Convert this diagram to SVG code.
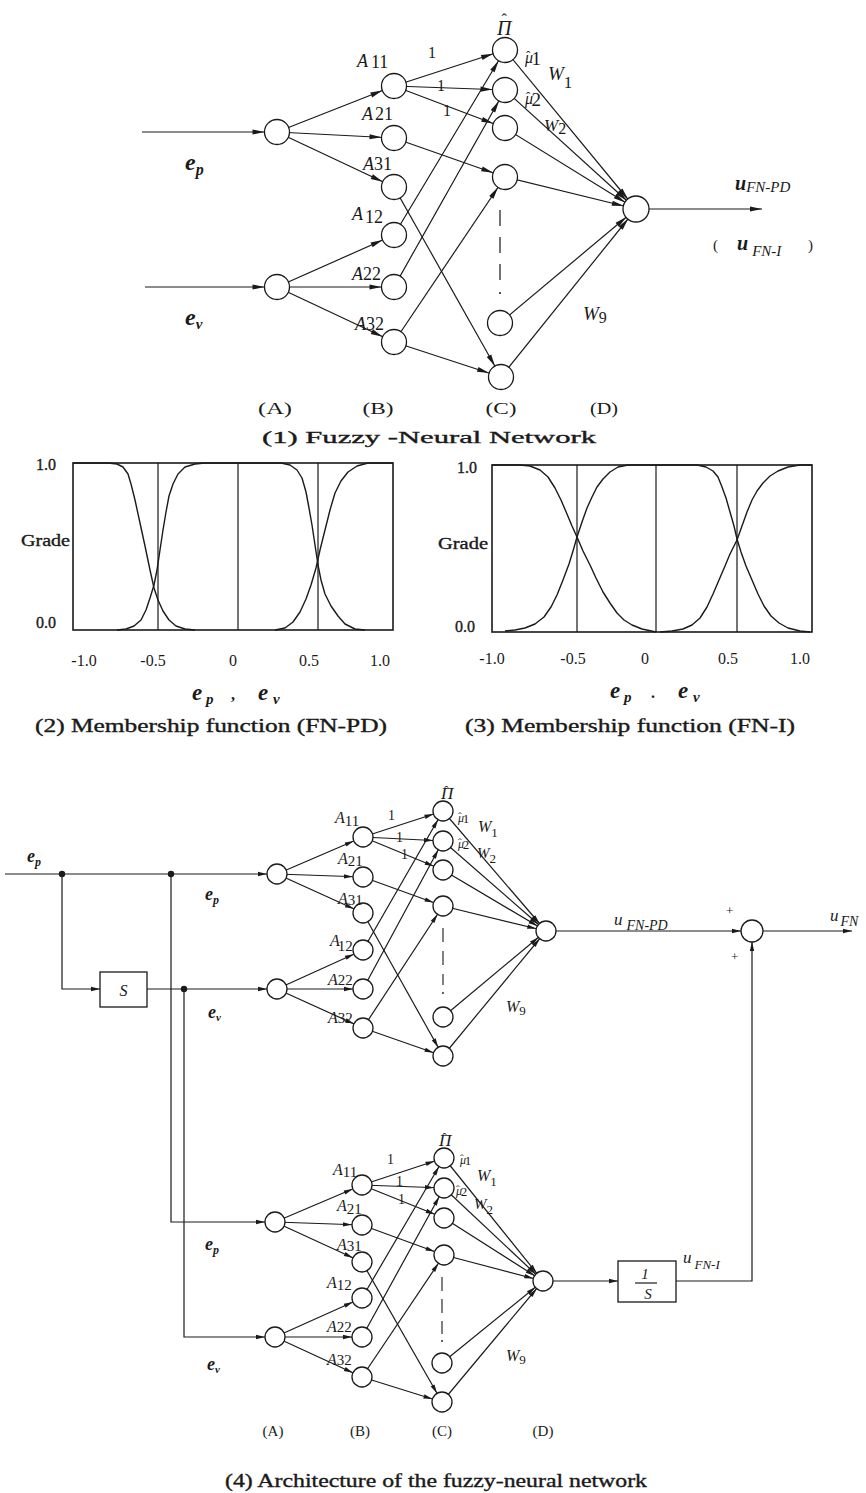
<svg xmlns="http://www.w3.org/2000/svg" width="866" height="1493" viewBox="0 0 866 1493">
<defs>
<style>
.ln{stroke:#1a1a1a;stroke-width:1.2;fill:none}
.fr{stroke:#1a1a1a;stroke-width:1.6;fill:none}
.cv{stroke:#1a1a1a;stroke-width:1.4;fill:none;stroke-linejoin:round}
.nd{fill:#fff;stroke:#1a1a1a;stroke-width:1.3}
.bx{fill:#fff;stroke:#1a1a1a;stroke-width:1.3}
.dot{fill:#1a1a1a}
text{font-family:"Liberation Serif","DejaVu Serif",serif;fill:#1a1a1a}
.it{font-style:italic}
.up{font-style:normal}
.bi{font-style:italic;font-weight:bold}
.cap{stroke:#1a1a1a;stroke-width:0.35}
.a1 .ln{marker-end:url(#a1)}
.a2 .ln{marker-end:url(#a2)}
</style>
<marker id="a1" markerUnits="userSpaceOnUse" markerWidth="30" markerHeight="8" refX="24.5" refY="0" orient="auto" overflow="visible"><path d="M0,-2.6 L12,0 L0,2.6 z" fill="#1a1a1a"/></marker>
<marker id="a1e" markerUnits="userSpaceOnUse" markerWidth="14" markerHeight="8" refX="12" refY="0" orient="auto" overflow="visible"><path d="M0,-2.6 L12,0 L0,2.6 z" fill="#1a1a1a"/></marker>
<marker id="a2" markerUnits="userSpaceOnUse" markerWidth="22" markerHeight="6" refX="19" refY="0" orient="auto" overflow="visible"><path d="M0,-2.2 L9,0 L0,2.2 z" fill="#1a1a1a"/></marker>
<marker id="a2s" markerUnits="userSpaceOnUse" markerWidth="22" markerHeight="6" refX="20" refY="0" orient="auto" overflow="visible"><path d="M0,-2.2 L9,0 L0,2.2 z" fill="#1a1a1a"/></marker>
<marker id="a2e" markerUnits="userSpaceOnUse" markerWidth="12" markerHeight="6" refX="9" refY="0" orient="auto" overflow="visible"><path d="M0,-2.2 L9,0 L0,2.2 z" fill="#1a1a1a"/></marker>
</defs>
<rect x="0" y="0" width="866" height="1493" fill="#fff"/>

<!-- ========== (1) Fuzzy-Neural Network ========== -->
<g id="connectors-net1" class="a1">
<path class="ln" d="M142,132 L277,132"/>
<path class="ln" d="M145,287 L277,287"/>
<path class="ln" d="M277,132 L394,86"/>
<path class="ln" d="M277,132 L394,138"/>
<path class="ln" d="M277,132 L394,187"/>
<path class="ln" d="M277,287 L394,235"/>
<path class="ln" d="M277,287 L394,287"/>
<path class="ln" d="M277,287 L394,342"/>
<path class="ln" d="M394,86 L505,50"/>
<path class="ln" d="M394,86 L505,90"/>
<path class="ln" d="M394,86 L505,128"/>
<path class="ln" d="M394,138 L505,177"/>
<path class="ln" d="M394,187 L501,377"/>
<path class="ln" d="M394,235 L505,50"/>
<path class="ln" d="M394,287 L505,90"/>
<path class="ln" d="M394,342 L505,177"/>
<path class="ln" d="M394,342 L501,377"/>
<path class="ln" d="M505,50 L636,209"/>
<path class="ln" d="M505,90 L636,209"/>
<path class="ln" d="M505,128 L636,209"/>
<path class="ln" d="M505,177 L636,209"/>
<path class="ln" d="M500,323 L636,209"/>
<path class="ln" d="M501,377 L636,209"/>
<path d="M636,209 L762,209" stroke="#1a1a1a" stroke-width="1.2" marker-end="url(#a1e)"/>
<path d="M500,210 L500,282" stroke="#1a1a1a" stroke-width="1.2" stroke-dasharray="16 11"/>
<circle class="dot" cx="500" cy="293" r="1"/>
<text x="428" y="58" font-size="16">1</text>
<text x="437" y="91" font-size="16">1</text>
<text x="443" y="116" font-size="16">1</text>
<text x="583" y="320"><tspan class="it" font-size="19">W</tspan><tspan font-size="16" dy="3">9</tspan></text>
<text x="548" y="80"><tspan class="it" font-size="19">W</tspan><tspan font-size="17" dy="8">1</tspan></text>
<text x="544" y="131"><tspan class="it" font-size="17">W</tspan><tspan font-size="16" dy="3">2</tspan></text>
<text x="735" y="190"><tspan class="bi" font-size="20">u</tspan><tspan class="it" font-size="15" dy="2">FN-PD</tspan></text>
<text x="713" y="250" font-size="15">(</text>
<text x="737" y="250"><tspan class="bi" font-size="20">u</tspan><tspan class="it" font-size="15" dx="4" dy="6">FN-I</tspan></text>
<text x="808" y="250" font-size="15">)</text>
</g>
<g id="net1-in-ep"><circle class="nd" cx="277" cy="132" r="12.5"/><text x="185" y="170"><tspan class="bi" font-size="24">e</tspan><tspan class="bi" font-size="16" dy="5">p</tspan></text></g>
<g id="net1-in-ev"><circle class="nd" cx="277" cy="287" r="12.5"/><text x="185" y="325"><tspan class="bi" font-size="24">e</tspan><tspan class="bi" font-size="15" dy="4">v</tspan></text></g>
<g id="net1-A11"><circle class="nd" cx="394" cy="86" r="12.5"/><text x="357" y="67"><tspan class="it" font-size="18">A</tspan><tspan font-size="18" dx="3" dy="1">11</tspan></text></g>
<g id="net1-A21"><circle class="nd" cx="394" cy="138" r="12.5"/><text x="362" y="120"><tspan class="it" font-size="18">A</tspan><tspan font-size="18" dx="2">21</tspan></text></g>
<g id="net1-A31"><circle class="nd" cx="394" cy="187" r="12.5"/><text x="363" y="170"><tspan class="it" font-size="18">A</tspan><tspan font-size="18">31</tspan></text></g>
<g id="net1-A12"><circle class="nd" cx="394" cy="235" r="12.5"/><text x="352" y="220"><tspan class="it" font-size="18">A</tspan><tspan font-size="18" dx="2" dy="3">12</tspan></text></g>
<g id="net1-A22"><circle class="nd" cx="394" cy="287" r="12.5"/><text x="352" y="280"><tspan class="it" font-size="18">A</tspan><tspan font-size="18">22</tspan></text></g>
<g id="net1-A32"><circle class="nd" cx="394" cy="342" r="12.5"/><text x="355" y="330"><tspan class="it" font-size="18">A</tspan><tspan font-size="18">32</tspan></text></g>
<g id="net1-C1"><circle class="nd" cx="505" cy="50" r="12.5"/><text x="497" y="35" class="it" font-size="20">Π<tspan class="up" font-size="16" dx="-10" dy="-10">ˆ</tspan></text><text x="525" y="63"><tspan class="it" font-size="16">μ</tspan><tspan font-size="13" dx="-7" dy="-3">ˆ</tspan><tspan font-size="19" dx="1" dy="5">1</tspan></text></g>
<g id="net1-C2"><circle class="nd" cx="505" cy="90" r="12.5"/><text x="525" y="104"><tspan class="it" font-size="16">μ</tspan><tspan font-size="13" dx="-7" dy="-3">ˆ</tspan><tspan font-size="19" dx="1" dy="5">2</tspan></text></g>
<g id="net1-C3"><circle class="nd" cx="505" cy="128" r="12.5"/></g>
<g id="net1-C4"><circle class="nd" cx="505" cy="177" r="12.5"/></g>
<g id="net1-C8"><circle class="nd" cx="500" cy="323" r="12.5"/></g>
<g id="net1-C9"><circle class="nd" cx="501" cy="377" r="12.5"/></g>
<g id="net1-D"><circle class="nd" cx="636" cy="209" r="13"/></g>
<g id="net1-layers" font-size="16" text-anchor="middle">
<text x="275" y="414" textLength="34" lengthAdjust="spacingAndGlyphs">(A)</text><text x="378" y="414" textLength="31" lengthAdjust="spacingAndGlyphs">(B)</text><text x="501" y="414" textLength="31" lengthAdjust="spacingAndGlyphs">(C)</text><text x="604" y="414" textLength="28" lengthAdjust="spacingAndGlyphs">(D)</text>
</g>
<text x="262" y="443" font-size="17" class="cap" textLength="334" lengthAdjust="spacingAndGlyphs">(1) Fuzzy -Neural Network</text>

<!-- ========== (2) Membership function (FN-PD) ========== -->
<g id="plot-fnpd">
<rect class="fr" x="73" y="463" width="320" height="167"/>
<path class="ln" d="M158,463 V630 M238,463 V630 M318,463 V630"/>
<polyline class="cv" points="73,463 108,463 117,464 123,467 128,474 131,484 135,500 140,523 145,546 150,570 154,588 158,600 163,611 169,620 176,626 185,629 195,630"/>
<polyline class="cv" points="117,630 126,629 134,626 141,620 146,610 150,598 154,585 157,570 160,550 163,530 166,512 169,496 173,484 178,474 185,467 195,464 205,463 281,463 290,465 297,470 302,478 306,492 309,508 312,525 315,545 318,565 321,580 325,594 331,606 338,616 345,624 355,629 365,630"/>
<polyline class="cv" points="275,630 285,628 293,622 300,612 306,599 311,585 316,568 320,550 325,530 330,510 335,493 341,481 348,472 357,466 368,463 393,463"/>
<g font-size="16">
<text x="36" y="470" class="cap">1.0</text>
<text x="21" y="546" class="cap" textLength="49" lengthAdjust="spacingAndGlyphs">Grade</text>
<text x="36" y="628" class="cap">0.0</text>
<g text-anchor="middle"><text x="84" y="666">-1.0</text><text x="153" y="666">-0.5</text><text x="233" y="666">0</text><text x="309" y="666">0.5</text><text x="380" y="666">1.0</text></g>
</g>
<text y="700"><tspan x="192" class="bi" font-size="23">e</tspan><tspan x="206" dy="4" class="bi" font-size="15">p</tspan><tspan x="231" dy="-4" font-size="16" font-weight="bold">,</tspan><tspan x="258" class="bi" font-size="23">e</tspan><tspan x="273" dy="4" class="bi" font-size="15">v</tspan></text>
<text x="35" y="732" font-size="18" class="cap" textLength="352" lengthAdjust="spacingAndGlyphs">(2) Membership function (FN-PD)</text>
</g>

<!-- ========== (3) Membership function (FN-I) ========== -->
<g id="plot-fni">
<rect class="fr" x="492" y="465" width="320" height="167"/>
<path class="ln" d="M577,465 V632 M656,465 V632 M737,465 V632"/>
<polyline class="cv" points="492,465 520,465 530,466 540,470 548,477 555,488 561,500 567,514 572,526 577,537 583,551 590,565 596,578 603,592 610,603 617,613 624,620 632,625 642,629 656,632"/>
<polyline class="cv" points="505,631 515,630 525,628 535,624 544,617 551,607 557,595 563,580 569,564 573,551 577,537 582,522 587,508 592,497 597,487 603,479 610,472 618,467 628,465 697,465 706,467 713,471 718,477 722,487 726,498 730,512 734,526 737,539 741,552 746,566 752,580 758,594 764,606 771,616 779,623 788,628 800,631 810,632"/>
<polyline class="cv" points="660,632 672,631 683,629 692,625 700,618 707,607 713,594 719,580 725,566 730,554 737,540 742,526 747,512 752,500 757,491 763,483 770,476 778,471 788,467 800,465 812,465"/>
<g font-size="16">
<text x="457" y="473" class="cap">1.0</text>
<text x="438" y="549" class="cap" textLength="50" lengthAdjust="spacingAndGlyphs">Grade</text>
<text x="455" y="632" class="cap">0.0</text>
<g text-anchor="middle"><text x="492" y="664">-1.0</text><text x="573" y="664">-0.5</text><text x="645" y="664">0</text><text x="728" y="664">0.5</text><text x="800" y="664">1.0</text></g>
</g>
<text y="698"><tspan x="610" class="bi" font-size="23">e</tspan><tspan x="624" dy="4" class="bi" font-size="15">p</tspan><tspan x="651" dy="-4" font-size="16" font-weight="bold">.</tspan><tspan x="678" class="bi" font-size="23">e</tspan><tspan x="693" dy="4" class="bi" font-size="15">v</tspan></text>
<text x="465" y="732" font-size="18" class="cap" textLength="330" lengthAdjust="spacingAndGlyphs">(3) Membership function (FN-I)</text>
</g>

<!-- ========== (4) Architecture ========== -->
<g id="connectors-arch">
<path class="ln" d="M5,874 L277,874" marker-end="url(#a2)"/>
<path class="ln" d="M62,874 V989 H100" marker-end="url(#a2e)"/>
<path class="ln" d="M147,989 L277,989" marker-end="url(#a2)"/>
<path class="ln" d="M171,874 V1222 H275" marker-end="url(#a2)"/>
<path class="ln" d="M184,989 V1337 H275" marker-end="url(#a2)"/>
<circle class="dot" cx="62" cy="874" r="3.2"/>
<circle class="dot" cx="171" cy="874" r="3.2"/>
<circle class="dot" cx="184" cy="989" r="3.2"/>
<path class="ln" d="M546,931 L752,931" marker-end="url(#a2s)"/>
<path class="ln" d="M752,931 L852,931" marker-end="url(#a2e)"/>
<path class="ln" d="M543,1281 L618,1281" marker-end="url(#a2e)"/>
<path class="ln" d="M676,1281 H752 V931" marker-end="url(#a2s)"/>
<text x="27" y="862"><tspan class="bi" font-size="18">e</tspan><tspan class="bi" font-size="12" dy="4">p</tspan></text>
<text x="205" y="900"><tspan class="bi" font-size="18">e</tspan><tspan class="bi" font-size="12" dy="4">p</tspan></text>
<text x="208" y="1018"><tspan class="bi" font-size="18">e</tspan><tspan class="bi" font-size="11" dy="3">v</tspan></text>
<text x="205" y="1250"><tspan class="bi" font-size="18">e</tspan><tspan class="bi" font-size="12" dy="4">p</tspan></text>
<text x="207" y="1370"><tspan class="bi" font-size="18">e</tspan><tspan class="bi" font-size="11" dy="3">v</tspan></text>
<text x="614" y="925"><tspan class="it" font-size="17">u</tspan><tspan class="it" font-size="14" dx="4" dy="5">FN-PD</tspan></text>
<text x="726" y="915" font-size="13">+</text>
<text x="731" y="961" font-size="13">+</text>
<text x="830" y="921"><tspan class="it" font-size="17">u</tspan><tspan class="it" font-size="14" dx="2" dy="5">FN</tspan></text>
<text x="683" y="1263"><tspan class="it" font-size="17">u</tspan><tspan class="it" font-size="13" dx="3" dy="6">FN-I</tspan></text>
</g>
<g id="block-S"><rect class="bx" x="100" y="972" width="47" height="35"/><text x="123.5" y="996" class="it" font-size="16" text-anchor="middle">S</text></g>
<g id="block-integ"><rect class="bx" x="618" y="1261" width="58" height="41"/><text x="645" y="1279" class="it" font-size="15" text-anchor="middle">1</text><path class="ln" d="M635,1283 H657"/><text x="648" y="1299" class="it" font-size="15" text-anchor="middle">S</text></g>
<g id="node-sum"><circle class="nd" cx="752" cy="931" r="11"/></g>

<!-- net2 (FN-PD) -->
<g id="connectors-net2" class="a2">
<path class="ln" d="M277,874 L363,837"/>
<path class="ln" d="M277,874 L363,877"/>
<path class="ln" d="M277,874 L363,913"/>
<path class="ln" d="M277,989 L363,950"/>
<path class="ln" d="M277,989 L363,989"/>
<path class="ln" d="M277,989 L363,1028"/>
<path class="ln" d="M363,837 L443,811"/>
<path class="ln" d="M363,837 L443,841"/>
<path class="ln" d="M363,837 L443,870"/>
<path class="ln" d="M363,877 L443,906"/>
<path class="ln" d="M363,913 L443,1056"/>
<path class="ln" d="M363,950 L443,811"/>
<path class="ln" d="M363,989 L443,841"/>
<path class="ln" d="M363,1028 L443,906"/>
<path class="ln" d="M363,1028 L443,1056"/>
<path class="ln" d="M443,811 L546,931"/>
<path class="ln" d="M443,841 L546,931"/>
<path class="ln" d="M443,870 L546,931"/>
<path class="ln" d="M443,906 L546,931"/>
<path class="ln" d="M443,1017 L546,931"/>
<path class="ln" d="M443,1056 L546,931"/>
<path d="M443,928 L443,985" stroke="#1a1a1a" stroke-width="1.1" stroke-dasharray="14 9"/>
<circle class="dot" cx="443" cy="993" r="0.9"/>
<text x="388" y="820" font-size="14">1</text>
<text x="396" y="842" font-size="14">1</text>
<text x="401" y="859" font-size="14">1</text>
<text x="478" y="832"><tspan class="it" font-size="16">W</tspan><tspan font-size="13" dy="5">1</tspan></text>
<text x="477" y="858"><tspan class="it" font-size="15">W</tspan><tspan font-size="13" dy="5">2</tspan></text>
<text x="506" y="1012"><tspan class="it" font-size="16">W</tspan><tspan font-size="13" dy="3">9</tspan></text>
</g>
<g id="net2-in-ep"><circle class="nd" cx="277" cy="874" r="10"/></g>
<g id="net2-in-ev"><circle class="nd" cx="277" cy="989" r="10"/></g>
<g id="net2-A11"><circle class="nd" cx="363" cy="837" r="10"/><text x="335" y="823"><tspan class="it" font-size="16">A</tspan><tspan font-size="15" dy="3">11</tspan></text></g>
<g id="net2-A21"><circle class="nd" cx="363" cy="877" r="10"/><text x="338" y="864"><tspan class="it" font-size="16">A</tspan><tspan font-size="15" dy="2">21</tspan></text></g>
<g id="net2-A31"><circle class="nd" cx="363" cy="913" r="10"/><text x="338" y="904"><tspan class="it" font-size="16">A</tspan><tspan font-size="15" dy="1">31</tspan></text></g>
<g id="net2-A12"><circle class="nd" cx="363" cy="950" r="10"/><text x="330" y="946"><tspan class="it" font-size="16">A</tspan><tspan font-size="15" dx="-2" dy="5">12</tspan></text></g>
<g id="net2-A22"><circle class="nd" cx="363" cy="989" r="10"/><text x="328" y="985"><tspan class="it" font-size="16">A</tspan><tspan font-size="15">22</tspan></text></g>
<g id="net2-A32"><circle class="nd" cx="363" cy="1028" r="10"/><text x="328" y="1023"><tspan class="it" font-size="16">A</tspan><tspan font-size="15">32</tspan></text></g>
<g id="net2-C1"><circle class="nd" cx="443" cy="811" r="10"/><text x="441" y="799" class="it" font-size="17">Π<tspan class="up" font-size="13" dx="-9" dy="-4">ˆ</tspan></text><text x="458" y="822"><tspan class="it" font-size="12">μ</tspan><tspan font-size="11" dx="-6" dy="-2">ˆ</tspan><tspan font-size="13" dx="1" dy="3">1</tspan></text></g>
<g id="net2-C2"><circle class="nd" cx="443" cy="841" r="10"/><text x="458" y="848"><tspan class="it" font-size="12">μ</tspan><tspan font-size="11" dx="-6" dy="-2">ˆ</tspan><tspan font-size="13" dx="1" dy="3">2</tspan></text></g>
<g id="net2-C3"><circle class="nd" cx="443" cy="870" r="10"/></g>
<g id="net2-C4"><circle class="nd" cx="443" cy="906" r="10"/></g>
<g id="net2-C8"><circle class="nd" cx="443" cy="1017" r="10"/></g>
<g id="net2-C9"><circle class="nd" cx="443" cy="1056" r="10"/></g>
<g id="net2-D"><circle class="nd" cx="546" cy="931" r="10"/></g>

<!-- net3 (FN-I) -->
<g id="connectors-net3" class="a2">
<path class="ln" d="M275,1222 L362,1185"/>
<path class="ln" d="M275,1222 L362,1225"/>
<path class="ln" d="M275,1222 L362,1262"/>
<path class="ln" d="M275,1337 L362,1298"/>
<path class="ln" d="M275,1337 L362,1337"/>
<path class="ln" d="M275,1337 L362,1377"/>
<path class="ln" d="M362,1185 L444,1158"/>
<path class="ln" d="M362,1185 L444,1188"/>
<path class="ln" d="M362,1185 L444,1218"/>
<path class="ln" d="M362,1225 L444,1255"/>
<path class="ln" d="M362,1262 L442,1402"/>
<path class="ln" d="M362,1298 L444,1158"/>
<path class="ln" d="M362,1337 L444,1188"/>
<path class="ln" d="M362,1377 L444,1255"/>
<path class="ln" d="M362,1377 L442,1402"/>
<path class="ln" d="M444,1158 L543,1281"/>
<path class="ln" d="M444,1188 L543,1281"/>
<path class="ln" d="M444,1218 L543,1281"/>
<path class="ln" d="M444,1255 L543,1281"/>
<path class="ln" d="M442,1363 L543,1281"/>
<path class="ln" d="M442,1402 L543,1281"/>
<path d="M442,1277 L442,1334" stroke="#1a1a1a" stroke-width="1.1" stroke-dasharray="14 8"/>
<circle class="dot" cx="442" cy="1341" r="0.9"/>
<text x="387" y="1164" font-size="14">1</text>
<text x="396" y="1186" font-size="14">1</text>
<text x="398" y="1204" font-size="14">1</text>
<text x="477" y="1181"><tspan class="it" font-size="16">W</tspan><tspan font-size="13" dy="5">1</tspan></text>
<text x="474" y="1209"><tspan class="it" font-size="15">W</tspan><tspan font-size="13" dy="5">2</tspan></text>
<text x="506" y="1361"><tspan class="it" font-size="16">W</tspan><tspan font-size="13" dy="3">9</tspan></text>
</g>
<g id="net3-in-ep"><circle class="nd" cx="275" cy="1222" r="10"/></g>
<g id="net3-in-ev"><circle class="nd" cx="275" cy="1337" r="10"/></g>
<g id="net3-A11"><circle class="nd" cx="362" cy="1185" r="10"/><text x="333" y="1175"><tspan class="it" font-size="16">A</tspan><tspan font-size="15" dy="2">11</tspan></text></g>
<g id="net3-A21"><circle class="nd" cx="362" cy="1225" r="10"/><text x="337" y="1211"><tspan class="it" font-size="16">A</tspan><tspan font-size="15" dy="3">21</tspan></text></g>
<g id="net3-A31"><circle class="nd" cx="362" cy="1262" r="10"/><text x="337" y="1250"><tspan class="it" font-size="16">A</tspan><tspan font-size="15" dy="1">31</tspan></text></g>
<g id="net3-A12"><circle class="nd" cx="362" cy="1298" r="10"/><text x="327" y="1288"><tspan class="it" font-size="16">A</tspan><tspan font-size="15" dy="2">12</tspan></text></g>
<g id="net3-A22"><circle class="nd" cx="362" cy="1337" r="10"/><text x="327" y="1332"><tspan class="it" font-size="16">A</tspan><tspan font-size="15">22</tspan></text></g>
<g id="net3-A32"><circle class="nd" cx="362" cy="1377" r="10"/><text x="327" y="1365"><tspan class="it" font-size="16">A</tspan><tspan font-size="15">32</tspan></text></g>
<g id="net3-C1"><circle class="nd" cx="444" cy="1158" r="10"/><text x="439" y="1146" class="it" font-size="17">Π<tspan class="up" font-size="13" dx="-9" dy="-4">ˆ</tspan></text><text x="460" y="1164"><tspan class="it" font-size="12">μ</tspan><tspan font-size="11" dx="-6" dy="-2">ˆ</tspan><tspan font-size="13" dx="1" dy="3">1</tspan></text></g>
<g id="net3-C2"><circle class="nd" cx="444" cy="1188" r="10"/><text x="456" y="1195"><tspan class="it" font-size="12">μ</tspan><tspan font-size="11" dx="-6" dy="-2">ˆ</tspan><tspan font-size="13" dx="1" dy="3">2</tspan></text></g>
<g id="net3-C3"><circle class="nd" cx="444" cy="1218" r="10"/></g>
<g id="net3-C4"><circle class="nd" cx="444" cy="1255" r="10"/></g>
<g id="net3-C8"><circle class="nd" cx="442" cy="1363" r="10"/></g>
<g id="net3-C9"><circle class="nd" cx="442" cy="1402" r="10"/></g>
<g id="net3-D"><circle class="nd" cx="543" cy="1281" r="10"/></g>
<g id="net3-layers" font-size="15" text-anchor="middle">
<text x="273" y="1436">(A)</text><text x="360" y="1436">(B)</text><text x="442" y="1436">(C)</text><text x="543" y="1436">(D)</text>
</g>
<text x="225" y="1487" font-size="18" class="cap" textLength="422" lengthAdjust="spacingAndGlyphs">(4)  Architecture of the fuzzy-neural network</text>
</svg>
